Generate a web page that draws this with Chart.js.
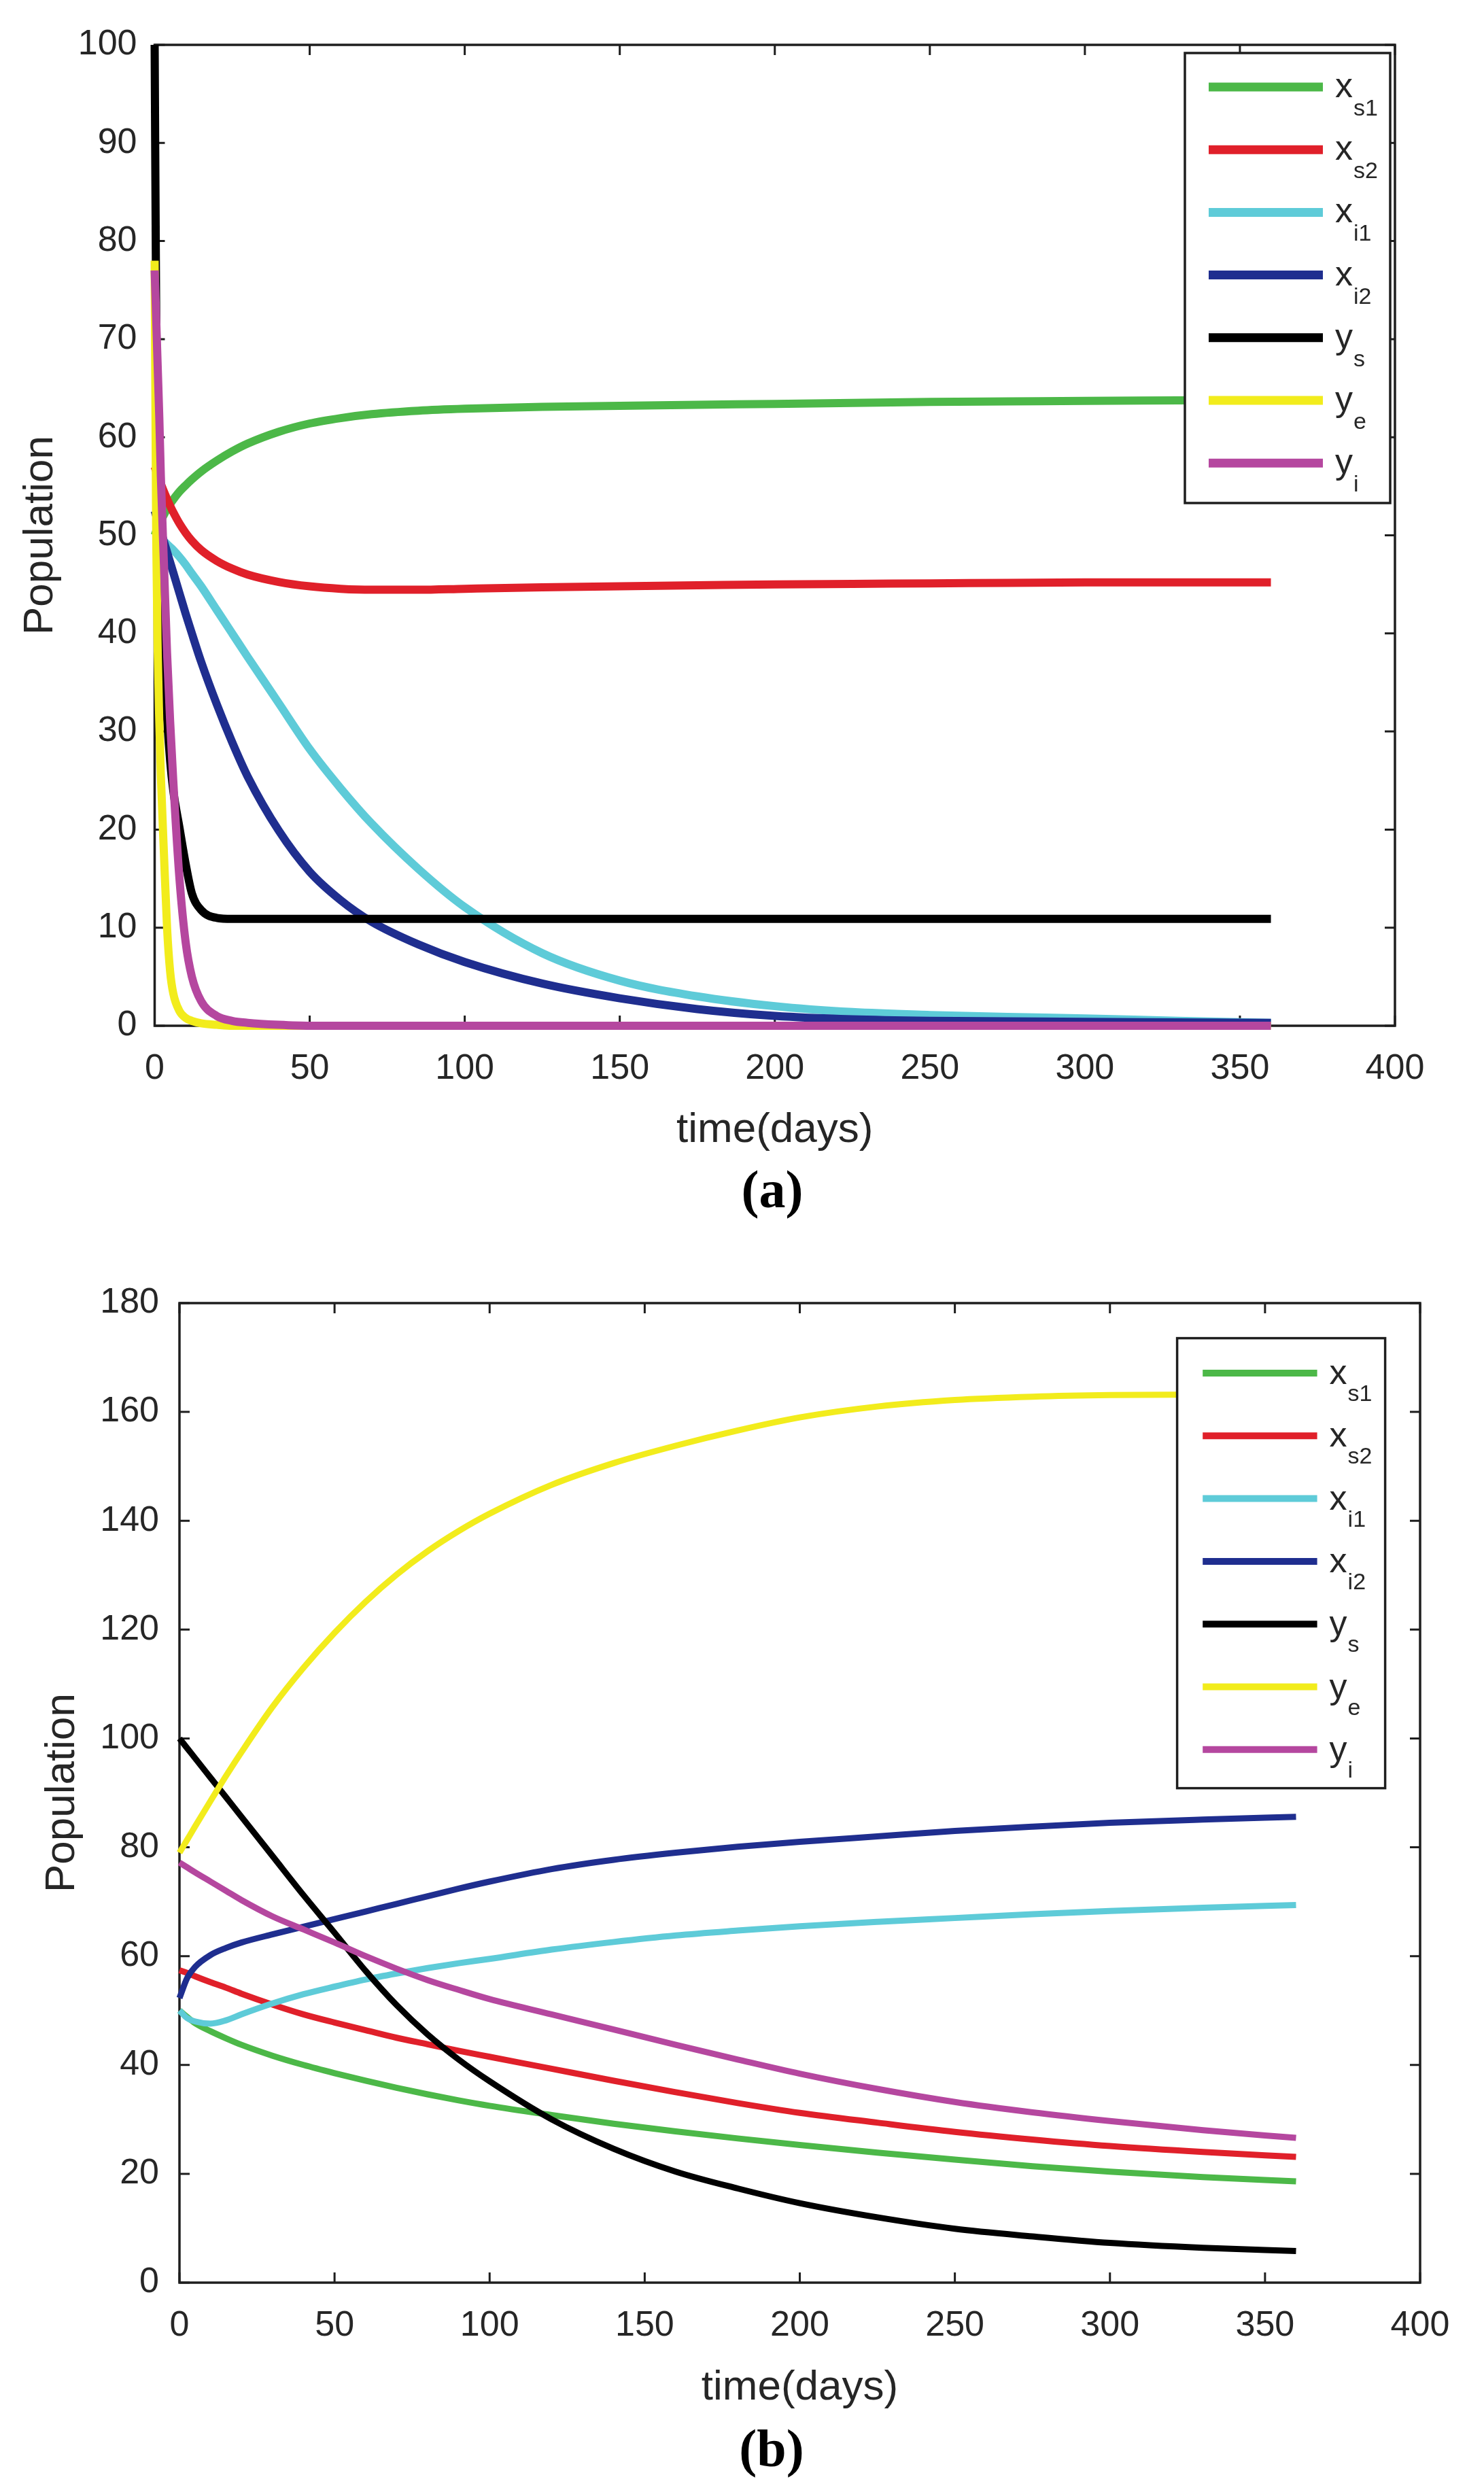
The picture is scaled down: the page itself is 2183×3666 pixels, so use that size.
<!DOCTYPE html>
<html>
<head>
<meta charset="utf-8">
<script src="https://cdn.jsdelivr.net/npm/chart.js@4.4.1/dist/chart.umd.min.js"></script>
<style>
html,body{margin:0;padding:0;background:#fff;}
body{width:2183px;height:3666px;position:relative;overflow:hidden;}
canvas{position:absolute;left:0;}
#cA{top:0;}
#cB{top:1830px;}
.cap{position:absolute;font-family:"Liberation Serif",serif;font-weight:bold;font-size:78px;line-height:1;transform:translate(-50%,-50%);color:#000;white-space:nowrap;}
</style>
</head>
<body>
<canvas id="cA" width="2183" height="1700" style="width:2183px;height:1700px"></canvas>
<canvas id="cB" width="2183" height="1730" style="width:2183px;height:1730px"></canvas>
<div class="cap" style="left:1136px;top:1750px">(a)</div>
<div class="cap" style="left:1135px;top:3602px">(b)</div>
<script>
// ---------- shared ----------
const seriesNames  = ['x_s1', 'x_s2', 'x_i1', 'x_i2', 'y_s', 'y_e', 'y_i'];
const legendMain   = ['x', 'x', 'x', 'x', 'y', 'y', 'y'];
const legendSub    = ['s1', 's2', 'i1', 'i2', 's', 'e', 'i'];
const seriesColors = ['#4cb848', '#e0202a', '#5ecbd8', '#1f2e8f', '#000000', '#f2ec1c', '#b5479f'];
const xTickStep = 50;
const xLabel = 'time(days)';
const yLabel = 'Population';

// ---------- panel (a) ----------
const tA = [0, 0.5, 1, 1.5, 2, 3, 4, 5, 6, 8, 10, 12, 15, 20, 25, 30, 40, 50, 60, 70, 85, 100, 125, 150, 175, 200, 225, 250, 275, 300, 330, 360];
const A_xs1 = [50, 50.4, 50.8, 51.15, 51.5, 52.1, 52.7, 53.2, 53.65, 54.45, 55.1, 55.7, 56.5, 57.6, 58.55, 59.35, 60.55, 61.4, 61.95, 62.35, 62.7, 62.9, 63.1, 63.2, 63.3, 63.4, 63.5, 63.6, 63.65, 63.7, 63.75, 63.8];
const A_xs2 = [57, 56.55, 56.1, 55.65, 55.25, 54.45, 53.7, 53.0, 52.35, 51.2, 50.25, 49.45, 48.5, 47.4, 46.6, 46.0, 45.25, 44.8, 44.55, 44.45, 44.45, 44.55, 44.7, 44.8, 44.9, 45.0, 45.05, 45.1, 45.15, 45.2, 45.2, 45.2];
const A_xi1 = [50, 49.9, 49.8, 49.7, 49.6, 49.4, 49.1, 48.8, 48.5, 47.8, 47.0, 46.1, 44.8, 42.4, 40.0, 37.6, 32.9, 28.2, 24.2, 20.6, 16.0, 12.1, 7.4, 4.6, 3.0, 2.0, 1.4, 1.1, 0.9, 0.75, 0.5, 0.3];
const A_xi2 = [52.5, 52.0, 51.4, 50.9, 50.4, 49.35, 48.3, 47.25, 46.2, 44.1, 42.0, 40.0, 37.1, 32.8, 28.9, 25.4, 19.9, 15.7, 12.8, 10.6, 8.3, 6.5, 4.3, 2.8, 1.7, 1.0, 0.65, 0.5, 0.45, 0.4, 0.35, 0.3];
const A_ys  = [100, 72, 58, 51, 46, 38, 31.5, 27, 24, 20.2, 16.5, 13.5, 11.8, 11.0, 10.9, 10.9, 10.9, 10.9, 10.9, 10.9, 10.9, 10.9, 10.9, 10.9, 10.9, 10.9, 10.9, 10.9, 10.9, 10.9, 10.9, 10.9];
const A_ye  = [78, 50, 38, 31, 25.5, 17.5, 10, 5.5, 3.3, 1.5, 0.8, 0.5, 0.25, 0.1, 0, 0, 0, 0, 0, 0, 0, 0, 0, 0, 0, 0, 0, 0, 0, 0, 0, 0];
const A_yi  = [77, 72, 67, 62, 56, 47, 38, 31, 25, 15, 8.5, 5, 2.5, 1.0, 0.5, 0.3, 0.1, 0, 0, 0, 0, 0, 0, 0, 0, 0, 0, 0, 0, 0, 0, 0];
const A_yMax = 100, A_yStep = 10;

// ---------- panel (b) ----------
const tB = [0, 2.5, 5, 10, 15, 20, 30, 40, 50, 60, 70, 80, 90, 100, 120, 140, 160, 180, 200, 225, 250, 275, 300, 330, 360];
const B_xs1 = [50, 48.8, 47.7, 46.2, 44.9, 43.7, 41.7, 40.0, 38.5, 37.1, 35.8, 34.6, 33.5, 32.5, 30.8, 29.2, 27.8, 26.5, 25.3, 23.9, 22.6, 21.4, 20.4, 19.4, 18.6];
const B_xs2 = [57.4, 56.9, 56.3, 55.2, 54.2, 53.1, 51.1, 49.3, 47.8, 46.4, 45.0, 43.8, 42.6, 41.5, 39.3, 37.1, 35.0, 33.0, 31.2, 29.4, 27.7, 26.3, 25.1, 24.0, 23.1];
const B_xi1 = [50, 48.6, 48.0, 47.6, 48.2, 49.3, 51.3, 53.0, 54.4, 55.7, 56.8, 57.8, 58.7, 59.5, 61.2, 62.6, 63.8, 64.7, 65.5, 66.3, 67.0, 67.7, 68.3, 68.9, 69.4];
const B_xi2 = [52.3, 56.0, 58.0, 60.2, 61.5, 62.5, 64.0, 65.4, 66.8, 68.2, 69.6, 71.0, 72.4, 73.7, 76.0, 77.7, 79.0, 80.1, 81.0, 82.0, 83.0, 83.8, 84.5, 85.1, 85.6];
const B_ys  = [100, 98.2, 96.4, 92.8, 89.2, 85.6, 78.4, 71.2, 64.3, 57.3, 51.0, 45.6, 41.0, 37.0, 30.0, 24.6, 20.4, 17.3, 14.6, 12.0, 9.9, 8.5, 7.3, 6.4, 5.8];
const B_ye  = [79, 81.4, 83.8, 88.5, 93.1, 97.5, 105.8, 113.0, 119.4, 125.1, 130.1, 134.4, 138.1, 141.3, 146.6, 150.6, 153.8, 156.6, 159.0, 161.0, 162.2, 162.8, 163.1, 163.2, 163.2];
const B_yi  = [77.2, 76.3, 75.4, 73.7, 72.0, 70.3, 67.3, 64.9, 62.5, 60.0, 57.7, 55.6, 53.8, 52.1, 49.3, 46.5, 43.7, 41.0, 38.4, 35.6, 33.2, 31.3, 29.7, 28.0, 26.6];
const B_yMax = 180, B_yStep = 20;

// ---------- plugins ----------
const framePlugin = {
  id: 'matlabFrame',
  beforeDatasetsDraw(chart, args, o) {
    const {ctx, chartArea: a, scales: {x, y}} = chart;
    ctx.save();
    ctx.strokeStyle = o.color;
    ctx.lineWidth = o.width;
    ctx.strokeRect(a.left, a.top, a.right - a.left, a.bottom - a.top);
    ctx.lineWidth = o.tickWidth;
    ctx.beginPath();
    x.ticks.forEach(t => {
      const px = x.getPixelForValue(t.value);
      ctx.moveTo(px, a.bottom); ctx.lineTo(px, a.bottom - o.tickLen);
      ctx.moveTo(px, a.top); ctx.lineTo(px, a.top + o.tickLen);
    });
    y.ticks.forEach(t => {
      const py = y.getPixelForValue(t.value);
      ctx.moveTo(a.left, py); ctx.lineTo(a.left + o.tickLen, py);
      ctx.moveTo(a.right, py); ctx.lineTo(a.right - o.tickLen, py);
    });
    ctx.stroke();
    ctx.restore();
  }
};

const subLegendPlugin = {
  id: 'subLegend',
  afterDatasetsDraw(chart, args, o) {
    const {ctx, chartArea: a} = chart;
    const left = a.right - o.rightGap - o.width;
    const top = a.top + o.topGap;
    ctx.save();
    ctx.fillStyle = '#ffffff';
    ctx.fillRect(left, top, o.width, o.height);
    ctx.strokeStyle = '#1e1e1e';
    ctx.lineWidth = o.border;
    ctx.strokeRect(left, top, o.width, o.height);
    chart.data.datasets.forEach((ds, i) => {
      const cy = top + o.firstY + i * o.rowStep;
      ctx.strokeStyle = ds.borderColor;
      ctx.lineWidth = o.lineWidth;
      ctx.lineCap = 'butt';
      ctx.beginPath();
      ctx.moveTo(left + o.lineX0, cy);
      ctx.lineTo(left + o.lineX1, cy);
      ctx.stroke();
      ctx.fillStyle = '#262626';
      ctx.textAlign = 'left';
      ctx.textBaseline = 'alphabetic';
      ctx.font = o.mainSize + 'px "Liberation Sans"';
      const tx = left + o.textX;
      ctx.fillText(legendMain[i], tx, cy + o.mainBase);
      const w = ctx.measureText(legendMain[i]).width;
      ctx.font = o.subSize + 'px "Liberation Sans"';
      ctx.fillText(legendSub[i], tx + w + 1, cy + o.subBase);
    });
    ctx.restore();
  }
};

Chart.defaults.font.family = '"Liberation Sans", Arial, sans-serif';
Chart.defaults.color = '#262626';

function buildChart(id, t, seriesList, p) {
  const datasets = seriesList.map((vals, i) => ({
    label: seriesNames[i],
    data: vals.map((v, k) => ({x: t[k], y: v})),
    borderColor: seriesColors[i],
    backgroundColor: seriesColors[i],
    borderWidth: p.lineWidth,
    pointRadius: 0,
    fill: false,
    cubicInterpolationMode: 'monotone',
    borderJoinStyle: 'round',
    clip: 10,
    order: seriesList.length - i
  }));
  return new Chart(document.getElementById(id), {
    type: 'line',
    data: {datasets},
    options: {
      responsive: false,
      animation: false,
      devicePixelRatio: 1,
      events: [],
      layout: {padding: {left: 0, top: p.padTop, right: p.padRight, bottom: 0}},
      scales: {
        x: {
          type: 'linear', min: 0, max: 400,
          ticks: {stepSize: xTickStep, padding: 32, maxRotation: 0, autoSkip: false, color: '#262626', font: {size: 52}},
          grid: {display: false, drawTicks: false},
          border: {display: false},
          title: {display: true, text: xLabel, color: '#262626', font: {size: 62}, padding: {top: 0, bottom: p.xTitlePad}},
          afterFit(s) { s.height = p.xHeight; }
        },
        y: {
          type: 'linear', min: 0, max: p.yMax,
          ticks: {stepSize: p.yStep, padding: p.yTickPad, color: '#262626', font: {size: 52}},
          grid: {display: false, drawTicks: false},
          border: {display: false},
          title: {display: true, text: yLabel, color: '#262626', font: {size: 62}, padding: {top: p.yTitlePad, bottom: 0}},
          afterFit(s) { s.width = p.yWidth; }
        }
      },
      plugins: {
        legend: {display: false},
        tooltip: {enabled: false},
        matlabFrame: {color: '#1e1e1e', width: 3.5, tickWidth: 3, tickLen: 15},
        subLegend: p.legend
      }
    },
    plugins: [framePlugin, subLegendPlugin]
  });
}

buildChart('cA', tA, [A_xs1, A_xs2, A_xi1, A_xi2, A_ys, A_ye, A_yi], {
  lineWidth: 12, yMax: A_yMax, yStep: A_yStep,
  padTop: 66, padRight: 131, xHeight: 191, yWidth: 227.5,
  xTitlePad: 0, yTitlePad: 23, yTickPad: 26,
  legend: {rightGap: 7, topGap: 12, width: 302, height: 662, border: 3.5,
           firstY: 50, rowStep: 92.2, lineX0: 35, lineX1: 203, lineWidth: 13,
           textX: 221, mainSize: 52, subSize: 34, mainBase: 15, subBase: 42}
});

buildChart('cB', tB, [B_xs1, B_xs2, B_xi1, B_xi2, B_ys, B_ye, B_yi], {
  lineWidth: 9, yMax: B_yMax, yStep: B_yStep,
  padTop: 87, padRight: 94, xHeight: 202, yWidth: 264,
  xTitlePad: 10, yTitlePad: 55, yTickPad: 30,
  legend: {rightGap: 51.4, topGap: 51.6, width: 306, height: 662, border: 3.5,
           firstY: 51.4, rowStep: 92.3, lineX0: 37.6, lineX1: 206, lineWidth: 10,
           textX: 224, mainSize: 52, subSize: 34, mainBase: 16, subBase: 41}
});
</script>
</body>
</html>
